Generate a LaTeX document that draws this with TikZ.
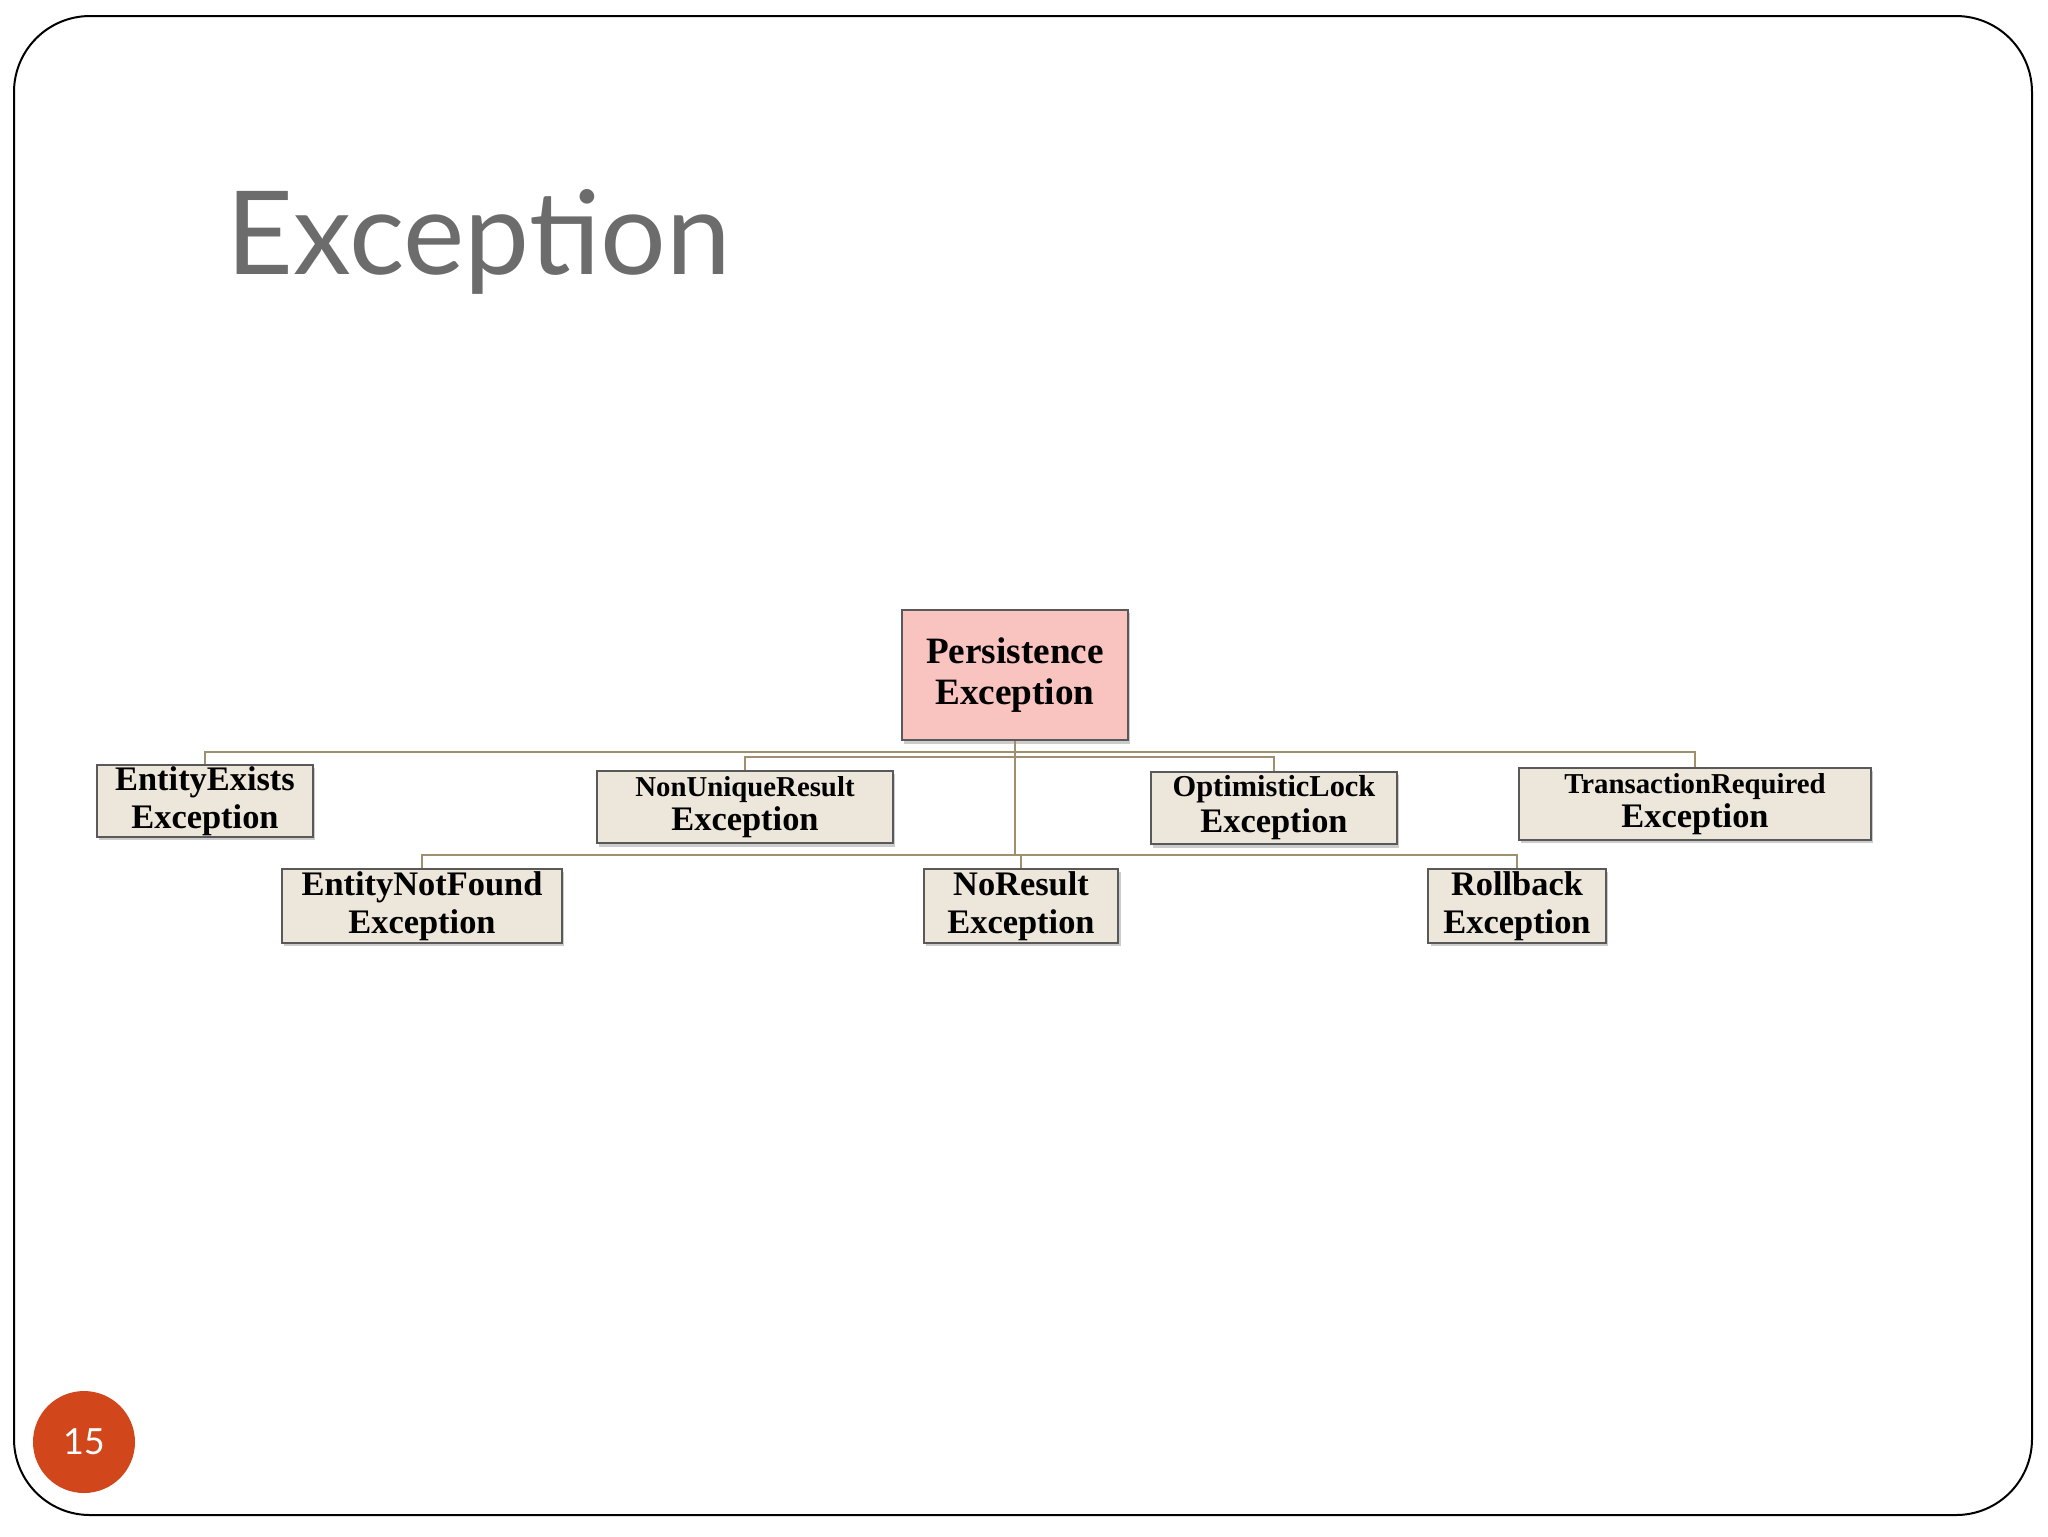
\documentclass[tikz,border=0pt]{standalone}
\usepackage{fontspec}
\setmainfont{Liberation Serif}
\newfontfamily\titlefont{Lato}
\usetikzlibrary{shadows}
\definecolor{boxfill}{HTML}{EDE6DA}
\definecolor{rootfill}{HTML}{F9C3C0}
\definecolor{linec}{HTML}{A08F6E}
\definecolor{numc}{HTML}{D2461C}
\tikzset{
  box/.style={draw=gray!70!black, line width=0.5pt, fill=boxfill, inner sep=0pt, align=center,
     font=\bfseries\fontsize{8.6}{9.6}\selectfont, drop shadow={shadow xshift=0.6pt,shadow yshift=-0.8pt,opacity=0.4}},
  conn/.style={draw=linec, line width=0.6pt}
}
\begin{document}
\begin{tikzpicture}[x=0.25pt,y=-0.25pt]
\useasboundingbox (0,0) rectangle (2048,1536);
\fill[white] (0,0) rectangle (2048,1536);
\draw[line width=0.5pt, rounded corners=19pt] (14,16) rectangle (2032,1515);
\node[anchor=base west, inner sep=0pt, text=gray!85!black, font=\titlefont\fontsize{29}{32}\selectfont] (title) at (226,274) {Exception};
\node[circle, fill=numc, minimum size=25.5pt, inner sep=0pt, text=white, font=\titlefont\fontsize{9}{10}\selectfont] (num) at (84,1442) {15};

\node[box, fill=rootfill, minimum width=56.5pt, minimum height=32.7pt, font=\bfseries\fontsize{9.3}{10.3}\selectfont] (P) at (1015,675) {Persistence\\Exception};
\node[box, minimum width=54pt, minimum height=18pt] (EE) at (205,801) {EntityExists\\Exception};
\node[box, minimum width=74pt, minimum height=18.2pt, font=\bfseries\fontsize{7.2}{8.6}\selectfont] (NU) at (745,807) {NonUniqueResult\\{\fontsize{8.6}{9}\selectfont Exception}};
\node[box, minimum width=61.5pt, minimum height=18.2pt, font=\bfseries\fontsize{7.6}{9}\selectfont] (OL) at (1274,808) {OptimisticLock\\{\fontsize{8.6}{9}\selectfont Exception}};
\node[box, minimum width=88pt, minimum height=18pt, font=\bfseries\fontsize{7.2}{8.6}\selectfont] (TR) at (1695,804) {TransactionRequired\\{\fontsize{8.6}{9}\selectfont Exception}};
\node[box, minimum width=70pt, minimum height=18.5pt] (NF) at (422,906) {EntityNotFound\\Exception};
\node[box, minimum width=48.7pt, minimum height=18.5pt] (NR) at (1021,906) {NoResult\\Exception};
\node[box, minimum width=44.3pt, minimum height=18.5pt] (RB) at (1517,906) {Rollback\\Exception};

\begin{scope}[conn]
\draw (P.south) -- (P.south |- 0,752) -| (EE.north);
\draw (P.south |- 0,752) -| (TR.north);
\draw (P.south |- 0,757) -| (NU.north);
\draw (P.south |- 0,757) -| (OL.north);
\draw (P.south) -- (P.south |- 0,855) -| (NF.north);
\draw (P.south |- 0,855) -| (NR.north);
\draw (P.south |- 0,855) -| (RB.north);
\end{scope}
\end{tikzpicture}
\end{document}
